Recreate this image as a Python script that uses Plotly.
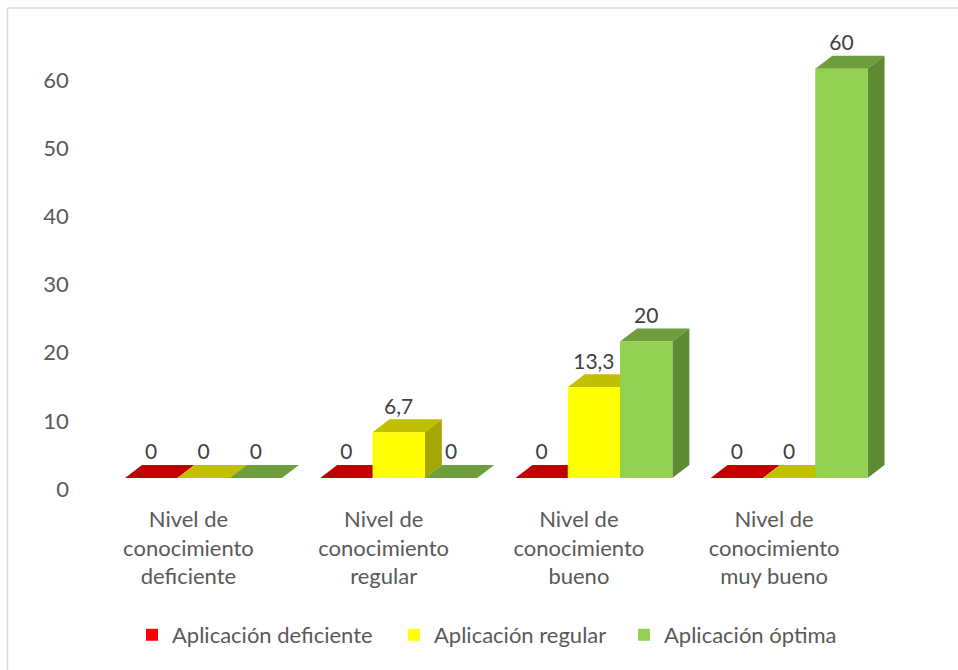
import plotly.graph_objects as go

# ---------------- data ----------------
categories = [
    "Nivel de<br>conocimiento<br>deficiente",
    "Nivel de<br>conocimiento<br>regular",
    "Nivel de<br>conocimiento<br>bueno",
    "Nivel de<br>conocimiento<br>muy bueno",
]
series_names = ["Aplicación deficiente", "Aplicación regular", "Aplicación óptima"]
aplicacion_deficiente = [0, 0, 0, 0]
aplicacion_regular = [0, 6.7, 13.3, 0]
aplicacion_optima = [0, 0, 20, 60]
y_ticks = [0, 10, 20, 30, 40, 50, 60]

# ---------------- styles ----------------
front_colors = ["#FF0000", "#FFFF00", "#92D050"]
top_colors = ["#C00000", "#C0C000", "#6E9E3C"]
side_colors = ["#A00000", "#A6A600", "#5E8A32"]
FONT = "Lato, 'Open Sans', sans-serif"
TXT = "#595959"

OFF = 0                      # body margin removed in post_script
W, H = 958, 670
PLOT_L, PLOT_R = 105.9, 886.7
PAPER_L, PAPER_R = 72, 900
PAPER_T, PAPER_B = 30, 500
ML, MR, MT, MB = PAPER_L, W - PAPER_R, PAPER_T, H - PAPER_B
PAPER_W = PAPER_R - PAPER_L
PAPER_H = PAPER_B - PAPER_T
PX_PER_UNIT = 6.82


def px2paper_x(px):
    return (px - OFF - PAPER_L) / PAPER_W


def px2paper_y(py):
    return (PAPER_B - (py - OFF)) / PAPER_H


def px2cont_x(px):
    return (px - OFF) / W


def px2cont_y(py):
    return 1 - (py - OFF) / H


# projection constants of the 3-D look (in axis units)
FLOOR = 11 / PX_PER_UNIT
DY = 13 / PX_PER_UNIT
GROUP_W = 0.804
BAR_W = GROUP_W / 3
DX = 0.087
LABEL_SHIFT = -0.077

x_idx = list(range(len(categories)))
all_series = [aplicacion_deficiente, aplicacion_regular, aplicacion_optima]

zero_px = 489 - OFF
y_lo = (zero_px - PAPER_B) / PX_PER_UNIT
y_hi = (zero_px - PAPER_T) / PX_PER_UNIT
y_range = [y_lo, y_hi]
y2_range = [y_lo - FLOOR, y_hi - FLOOR]

fig = go.Figure()

# ---- top and side faces (base subplot, under the front faces) ----
for j, vals in enumerate(all_series):
    tx, ty, sx, sy = [], [], [], []
    for i, v in zip(x_idx, vals):
        x0 = i - GROUP_W / 2 + j * BAR_W
        x1 = x0 + BAR_W
        b = FLOOR
        tx += [x0, x1, x1 + DX, x0 + DX, x0, None]
        ty += [b + v, b + v, b + v + DY, b + v + DY, b + v, None]
        if v > 0:
            sx += [x1, x1, x1 + DX, x1 + DX, x1, None]
            sy += [b, b + v, b + v + DY, b + DY, b, None]
    fig.add_trace(go.Scatter(x=tx, y=ty, mode="lines", fill="toself",
                             fillcolor=top_colors[j], line=dict(width=0),
                             hoverinfo="skip", showlegend=False,
                             xaxis="x", yaxis="y"))
    if sx:
        fig.add_trace(go.Scatter(x=sx, y=sy, mode="lines", fill="toself",
                                 fillcolor=side_colors[j], line=dict(width=0),
                                 hoverinfo="skip", showlegend=False,
                                 xaxis="x", yaxis="y"))

# ---- front faces (bars) on the overlay subplot ----
legend_ids = ["legend", "legend2", "legend3"]
for j, (name, vals) in enumerate(zip(series_names, all_series)):
    fig.add_trace(go.Bar(x=x_idx, y=vals, name=name, legend=legend_ids[j],
                         marker=dict(color=front_colors[j], line=dict(width=0)),
                         xaxis="x2", yaxis="y2"))

# ---- data labels ----
for j, vals in enumerate(all_series):
    lx = [i - GROUP_W / 2 + (j + 0.5) * BAR_W for i in x_idx]
    ly = [v + 2 * DY - 0.3 for v in vals]
    txt = [("%g" % v).replace(".", ",") for v in vals]
    fig.add_trace(go.Scatter(x=lx, y=ly, mode="text", text=txt,
                             textposition="middle center",
                             textfont=dict(family=FONT, size=21, color="#404040"),
                             hoverinfo="skip", showlegend=False,
                             xaxis="x2", yaxis="y2"))

x_dom = [(PLOT_L - PAPER_L) / PAPER_W, (PLOT_R - PAPER_L) / PAPER_W]


def legend_at(px_left):
    return dict(orientation="h", xref="container", yref="container",
                x=px2cont_x(px_left), xanchor="left",
                y=px2cont_y(635), yanchor="middle",
                font=dict(family=FONT, size=22, color=TXT),
                bgcolor="rgba(0,0,0,0)", borderwidth=0)


border = dict(color="#D9D9D9", width=1.5)

fig.update_layout(
    template="none",
    width=W, height=H,
    margin=dict(l=ML, r=MR, t=MT, b=MB, autoexpand=False),
    paper_bgcolor="white", plot_bgcolor="rgba(0,0,0,0)",
    font=dict(family=FONT, size=22, color=TXT),
    barmode="group", bargap=1 - GROUP_W, bargroupgap=0,
    xaxis=dict(domain=x_dom, range=[-0.5, 3.5], showgrid=False, zeroline=False,
               showline=False, ticks="", automargin=False,
               tickvals=[i + LABEL_SHIFT for i in x_idx], ticktext=categories,
               tickfont=dict(family=FONT, size=22, color=TXT),
               ticklabelstandoff=4),
    yaxis=dict(range=y_range, tickvals=y_ticks, showgrid=False, zeroline=False,
               showline=False, ticks="", automargin=False,
               tickfont=dict(family=FONT, size=22, color=TXT),
               ticklabelstandoff=36),
    xaxis2=dict(domain=x_dom, range=[-0.5, 3.5], overlaying="x", visible=False),
    yaxis2=dict(range=y2_range, overlaying="y", visible=False),
    legend=legend_at(132),
    legend2=legend_at(394),
    legend3=legend_at(624),
    showlegend=True,
    shapes=[
        dict(type="line", xref="paper", yref="paper",
             x0=px2paper_x(7.5), x1=px2paper_x(960),
             y0=px2paper_y(8), y1=px2paper_y(8),
             line=border, layer="below"),
        dict(type="line", xref="paper", yref="paper",
             x0=px2paper_x(7.5), x1=px2paper_x(7.5),
             y0=px2paper_y(8), y1=px2paper_y(672),
             line=border, layer="below"),
    ],
)

fig.write_html(
    "out.html",
    config={"displayModeBar": False},
    post_script="document.body.style.margin='0';document.body.style.overflow='hidden';",
)
